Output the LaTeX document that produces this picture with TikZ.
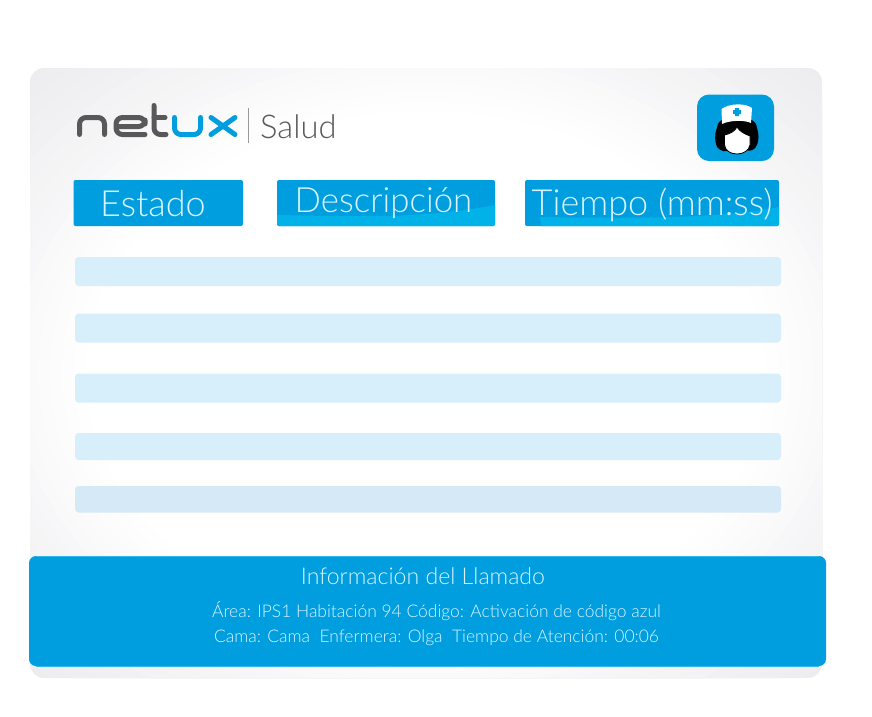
\documentclass[tikz,border=0pt]{standalone}
\usepackage{fontspec}
\setmainfont{Lato}[UprightFont=* Light]
\definecolor{netblue}{HTML}{009EDF}
\definecolor{wave}{HTML}{00B2E8}
\definecolor{rowblue}{HTML}{D7EEFB}
\definecolor{rowdim}{HTML}{D5E9F6}
\definecolor{logogrey}{HTML}{58585A}
\definecolor{edgeblue}{HTML}{33B8EC}
\definecolor{labeltint}{HTML}{D8F4FF}
\definecolor{panelgrey}{HTML}{EDEDF0}
\tikzset{
  headbox/.style={fill=netblue,rounded corners=2pt},
  rowbar/.style={fill=rowblue,rounded corners=3.5pt},
  headtext/.style={anchor=base west,text=labeltint,inner sep=0pt},
  infotext/.style={anchor=base,text=labeltint,inner sep=0pt},
  logostroke/.style={line width=5pt,line cap=round,line join=round,rounded corners=6.5pt},
}
\begin{document}
\begin{tikzpicture}[x=1pt,y=-1pt]
\useasboundingbox (0,0) rectangle (872,716);
\fill[white] (0,0) rectangle (872,716);
% panel
\begin{scope}
\clip[rounded corners=14pt] (30,68) rectangle (822,678);
\fill[panelgrey] (30,68) rectangle (822,678);
\foreach \r/\t in {1.38/6,1.34/12,1.30/18,1.26/24,1.22/30,1.18/36,1.14/43,1.10/50,1.07/57,1.04/64,1.01/71,0.98/77,0.95/83,0.92/89,0.89/94,0.86/100}{
  \fill[white!\t!panelgrey] (426,373) ellipse[x radius=396*\r,y radius=305*\r];
}
\end{scope}
% logo
\draw[logostroke,logogrey] (79.5,134.5) -- (79.5,117.5) -- (104.5,117.5) -- (104.5,134.5);
\draw[logostroke,logogrey] (116,126.5) -- (145,126.5) -- (145,117.5) -- (116,117.5) -- (116,134.5) -- (145,134.5);
\draw[logostroke,logogrey] (154,105.5) -- (154,134.5) -- (166,134.5);
\draw[line width=5pt,line cap=round,logogrey] (154,117.5) -- (165,117.5);
\draw[logostroke,netblue] (174.5,117.5) -- (174.5,134.5) -- (200.5,134.5) -- (200.5,117.5);
\draw[line width=5pt,line cap=round,netblue] (211,117.5) -- (235,134.5);
\draw[line width=5pt,line cap=round,netblue] (235,117.5) -- (211,134.5);
\draw[gray!80,line width=.8pt] (248.5,108) -- (248.5,143);
\node[anchor=base west,inner sep=0pt,text=logogrey,font=\fontsize{32.7}{33}\selectfont] (salud) at (260,138) {Salud};
% nurse icon
\fill[netblue,rounded corners=12pt] (697,94.5) rectangle (774,161);
\fill[black] (737,119) .. controls (726,118) and (718,118) .. (717,128) .. controls (714,135) and (715,142) .. (717,147) .. controls (721,152) and (726,152) .. (730,150) -- (746,150) .. controls (750,152) and (755,150) .. (757,145) .. controls (759,140) and (759,134) .. (757,128) .. controls (756,119) and (748,118) .. (737,119) -- cycle;
\fill[white] (721.5,109) .. controls (730,103) and (745,103) .. (752,108) -- (751,123) .. controls (745,120) and (730,120) .. (722,124) -- cycle;
\fill[netblue] (735,108) rectangle (739,116) (733,110) rectangle (741,114);
\draw[black,fill=white,line width=.8pt] (724.5,135) .. controls (730,134) and (735,131) .. (737,127) .. controls (740,132) and (745,134) .. (750,136) -- (750,145) .. controls (749,150) and (744,154) .. (737,154) .. controls (730,154) and (725,150) .. (724.5,145) -- cycle;
% header boxes
\fill[headbox] (73.5,180) rectangle (243,226);
\fill[headbox] (277,180) rectangle (495,226);
\begin{scope}
\clip[rounded corners=2pt] (277,180) rectangle (495,226);
\fill[wave] (277,215) .. controls (340,216) and (420,220) .. (495,205) -- (495,226) -- (277,226) -- cycle;
\end{scope}
\fill[headbox] (525,180) rectangle (779,226);
\begin{scope}
\clip[rounded corners=2pt] (525,180) rectangle (779,226);
\fill[wave] (540,217) .. controls (620,218) and (710,220) .. (779,207) -- (779,226) -- (541,226) -- cycle;
\end{scope}
\node[headtext,font=\fontsize{36}{36}\selectfont] (estado) at (100,216) {Estado};
\node[headtext,font=\fontsize{34.8}{35}\selectfont] (descripcion) at (294.5,212) {Descripción};
\node[headtext,font=\fontsize{36}{36}\selectfont] (tiempo) at (531.5,215) {Tiempo (mm:ss)};
% rows
\fill[rowbar] (75,257) rectangle (781,286);
\fill[rowbar] (75,313.5) rectangle (781,342.5);
\fill[rowbar] (75,373.5) rectangle (781,402.5);
\fill[rowbar] (75,433) rectangle (781,460);
\fill[rowbar,fill=rowdim] (75,486) rectangle (781,512.5);
% info band
\fill[netblue,rounded corners=7pt] (29,556) rectangle (826,666);
\draw[edgeblue,line width=.6pt] (36,556) -- (819,556);
\draw[edgeblue,line width=.6pt] (36,666) -- (819,666);
\node[infotext,font=\fontsize{23.1}{23}\selectfont] (info) at (423,584) {Información del Llamado};
\node[infotext,font=\fontsize{17.45}{17}\selectfont] (lineone) at (436.5,617) {Área: IPS1 Habitación 94 Código: Activación de código azul};
\node[infotext,font=\fontsize{17.45}{17}\selectfont] (linetwo) at (436.5,642) {Cama: Cama\ \ Enfermera: Olga\ \ Tiempo de Atención: 00:06};
\end{tikzpicture}
\end{document}
